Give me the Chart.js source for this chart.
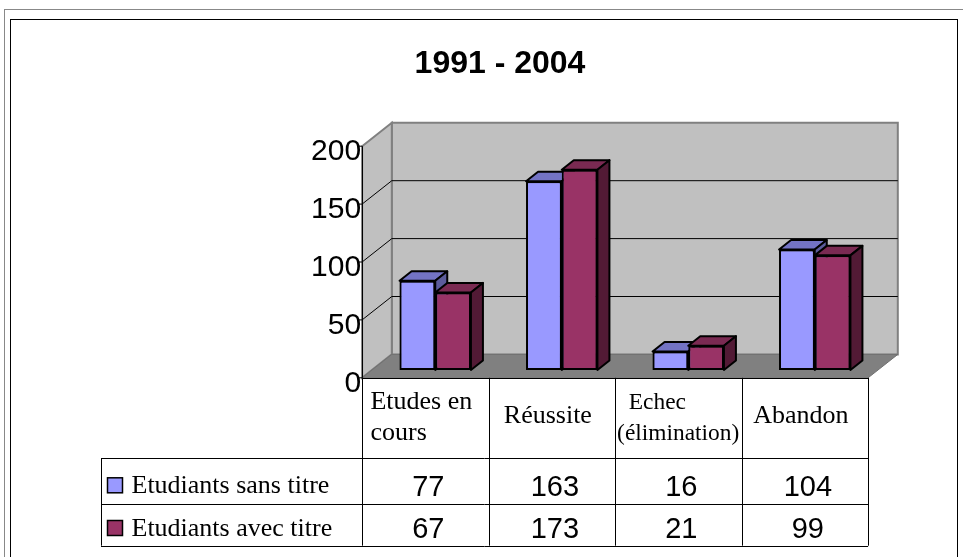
<!DOCTYPE html>
<html>
<head>
<meta charset="utf-8">
<script src="https://cdn.jsdelivr.net/npm/chart.js@4.4.1/dist/chart.umd.min.js"></script>
<style>
  html, body { margin: 0; padding: 0; background: #fff; }
  #wrap { position: relative; width: 963px; height: 557px; overflow: hidden; }
  canvas { position: absolute; left: 0; top: 0; }
</style>
</head>
<body>
<div id="wrap"><canvas id="chart" width="963" height="557"></canvas></div>
<script>
// données
const title = '1991 - 2004';
const categories = [['Etudes en', 'cours'], ['Réussite'], ['  Echec', '(élimination)'], ['Abandon']];
const seriesNames = ['Etudiants sans titre', 'Etudiants avec titre'];
const sansTitre = [77, 163, 16, 104];
const avecTitre = [67, 173, 21, 99];
const yTicks = [0, 50, 100, 150, 200];

// couleurs des barres : face, dessus, côté
const colors = [
    { front: '#9999FF', top: '#7373C4', side: '#5C5C9C' },
    { front: '#993366', top: '#7A2A52', side: '#521A35' }
];

// profondeur de la vue 3D
const DX = 29.7, DY = 23.4, FRONT_T = 1 / 3;
const BAR_DX = 12, BAR_DY = 9.5;

const serif = '"Liberation Serif", "Times New Roman", serif';
const sans = '"Liberation Sans", Arial, sans-serif';

function poly(ctx, pts, fill, stroke, lw) {
    ctx.beginPath();
    ctx.moveTo(pts[0][0], pts[0][1]);
    for (let i = 1; i < pts.length; i++) ctx.lineTo(pts[i][0], pts[i][1]);
    ctx.closePath();
    if (fill) { ctx.fillStyle = fill; ctx.fill(); }
    if (stroke) { ctx.strokeStyle = stroke; ctx.lineWidth = lw || 1; ctx.stroke(); }
}

const box3d = {
    id: 'box3d',
    beforeDatasetsDraw(chart) {
        const ctx = chart.ctx;
        const ca = chart.chartArea;
        const ys = chart.scales.y;
        const max = yTicks[yTicks.length - 1];
        // point (x du plan des barres, valeur, profondeur)
        const p = (x, v, t) => [x + (t - FRONT_T) * DX, ys.getPixelForValue(v) - (t - FRONT_T) * DY];

        ctx.save();
        // mur du fond
        poly(ctx, [p(ca.left, max, 1), p(ca.right, max, 1), p(ca.right, 0, 1), p(ca.left, 0, 1)], '#C0C0C0', '#808080', 2);
        // mur de gauche
        poly(ctx, [p(ca.left, max, 0), p(ca.left, max, 1), p(ca.left, 0, 1), p(ca.left, 0, 0)], '#C0C0C0', '#808080', 2);
        // sol
        poly(ctx, [p(ca.left, 0, 0), p(ca.right, 0, 0), p(ca.right, 0, 1), p(ca.left, 0, 1)], '#808080', '#707070', 1);

        // quadrillage
        ctx.strokeStyle = '#000';
        ctx.lineWidth = 1;
        yTicks.forEach(v => {
            if (v === 0 || v === max) return;
            const a = p(ca.left, v, 0), b = p(ca.left, v, 1), c = p(ca.right, v, 1);
            ctx.beginPath();
            ctx.moveTo(a[0], a[1]);
            ctx.lineTo(b[0], b[1]);
            ctx.lineTo(c[0], c[1]);
            ctx.stroke();
        });

        // axe vertical avant + graduations
        const top = p(ca.left, max, 0), bot = p(ca.left, 0, 0);
        ctx.beginPath();
        ctx.moveTo(Math.round(top[0]) + 0.5, top[1]);
        ctx.lineTo(Math.round(bot[0]) + 0.5, bot[1]);
        ctx.stroke();

        ctx.fillStyle = '#000';
        ctx.font = '30px ' + sans;
        ctx.textAlign = 'right';
        ctx.textBaseline = 'alphabetic';
        yTicks.forEach(v => {
            const q = p(ca.left, v, 0);
            ctx.beginPath();
            ctx.moveTo(q[0] - 3, q[1]);
            ctx.lineTo(q[0], q[1]);
            ctx.stroke();
            ctx.fillText(String(v), q[0] - 1, q[1] + 14);
        });
        ctx.restore();
    },
    afterDatasetsDraw(chart) {
        // redessine chaque barre dans l'ordre gauche -> droite avec dessus et côté
        const ctx = chart.ctx;
        const metas = chart.data.datasets.map((d, k) => chart.getDatasetMeta(k));
        ctx.save();
        ctx.lineJoin = 'round';
        for (let i = 0; i < categories.length; i++) {
            metas.forEach((meta, k) => {
                const bar = meta.data[i];
                const c = colors[k];
                bar.draw(ctx, chart.chartArea);
                const { x, y, base, width } = bar.getProps(['x', 'y', 'base', 'width'], true);
                const l = x - width / 2, r = x + width / 2;
                poly(ctx, [[l, y], [l + BAR_DX, y - BAR_DY], [r + BAR_DX, y - BAR_DY], [r, y]], c.top, '#000', 2);
                poly(ctx, [[r, y], [r + BAR_DX, y - BAR_DY], [r + BAR_DX, base - BAR_DY], [r, base]], c.side, '#000', 2);
            });
        }
        ctx.restore();
    },
    afterDraw(chart) {
        const ctx = chart.ctx;
        const ca = chart.chartArea;
        const xs = chart.scales.x;
        const ys = chart.scales.y;
        const n = categories.length;
        const catW = (ca.right - ca.left) / n;
        const shift = FRONT_T * DX;
        const yTop = ys.getPixelForValue(0) + FRONT_T * DY;   // bord avant du sol
        const rowA = 458.3, rowB = 504.3, rowC = 545.7;
        const legendLeft = 101;
        const colX = [];
        for (let i = 0; i <= n; i++) colX.push(ca.left - shift + i * catW);

        ctx.save();
        ctx.strokeStyle = '#000';
        ctx.lineWidth = 1;
        const hline = (x1, x2, y) => { ctx.beginPath(); ctx.moveTo(x1, Math.round(y) + 0.5); ctx.lineTo(x2, Math.round(y) + 0.5); ctx.stroke(); };
        const vline = (x, y1, y2) => { ctx.beginPath(); ctx.moveTo(Math.round(x) + 0.5, y1); ctx.lineTo(Math.round(x) + 0.5, y2); ctx.stroke(); };

        hline(colX[0], colX[n], yTop);
        [rowA, rowB, rowC].forEach(y => hline(legendLeft, colX[n], y));
        colX.forEach(x => vline(x, yTop, rowC));
        vline(legendLeft, rowA, rowC);

        // en-têtes des catégories
        ctx.fillStyle = '#000';
        ctx.textAlign = 'left';
        ctx.textBaseline = 'alphabetic';
        categories.forEach((lines, i) => {
            const cx = xs.getPixelForValue(i) - shift;
            ctx.font = '26px ' + serif;
            let w = Math.max(...lines.map(s => ctx.measureText(s).width));
            if (w > catW - 4) {
                const size = Math.floor(26 * (catW - 4) / w * 10) / 10;
                ctx.font = size + 'px ' + serif;
                w = Math.max(...lines.map(s => ctx.measureText(s).width));
            }
            const x0 = Math.max(cx - w / 2 - 4, cx - catW / 2 + 2);
            if (lines.length === 1) {
                ctx.fillText(lines[0], x0, 423);
            } else {
                lines.forEach((s, k) => ctx.fillText(s, x0, 409 + k * 31));
            }
        });

        // légende + valeurs
        const rows = [
            { data: sansTitre, base: 493.3, num: 495.7 },
            { data: avecTitre, base: 536, num: 538.3 }
        ];
        rows.forEach((row, k) => {
            ctx.fillStyle = colors[k].front;
            ctx.fillRect(107.5, row.base - 15.5, 15, 15);
            ctx.strokeStyle = '#000';
            ctx.lineWidth = 1.5;
            ctx.strokeRect(107.5, row.base - 15.5, 15, 15);
            ctx.fillStyle = '#000';
            ctx.font = '26px ' + serif;
            ctx.textAlign = 'left';
            ctx.fillText(seriesNames[k], 131.5, row.base);
            ctx.font = '29px ' + sans;
            ctx.textAlign = 'center';
            row.data.forEach((v, i) => {
                ctx.fillText(String(v), xs.getPixelForValue(i) - shift + 3, row.num);
            });
        });

        // titre
        ctx.font = 'bold 32px ' + sans;
        ctx.textAlign = 'center';
        ctx.fillText(title, 500, 73);

        // cadres
        ctx.lineWidth = 1;
        ctx.strokeStyle = '#888';
        ctx.strokeRect(4.5, 9.5, 1000, 600);
        ctx.strokeStyle = '#000';
        ctx.strokeRect(10.5, 19.5, 947, 600);
        ctx.restore();
    }
};

const ctx = document.getElementById('chart').getContext('2d');
const chart = new Chart(ctx, {
    type: 'bar',
    data: {
        labels: categories,
        datasets: [
            {
                label: seriesNames[0],
                data: sansTitre,
                backgroundColor: colors[0].front,
                borderColor: '#000',
                borderWidth: 2,
                borderSkipped: false
            },
            {
                label: seriesNames[1],
                data: avecTitre,
                backgroundColor: colors[1].front,
                borderColor: '#000',
                borderWidth: 2,
                borderSkipped: false
            }
        ]
    },
    options: {
        responsive: false,
        animation: false,
        devicePixelRatio: 1,
        layout: { padding: { left: 372, right: 85, top: 138.4, bottom: 187 } },
        datasets: { bar: { categoryPercentage: 0.564, barPercentage: 1 } },
        plugins: { legend: { display: false }, title: { display: false }, tooltip: { enabled: false } },
        scales: {
            x: { display: false, grid: { display: false } },
            y: { display: false, min: 0, max: 200, ticks: { stepSize: 50 } }
        }
    },
    plugins: [box3d]
});
</script>
</body>
</html>
